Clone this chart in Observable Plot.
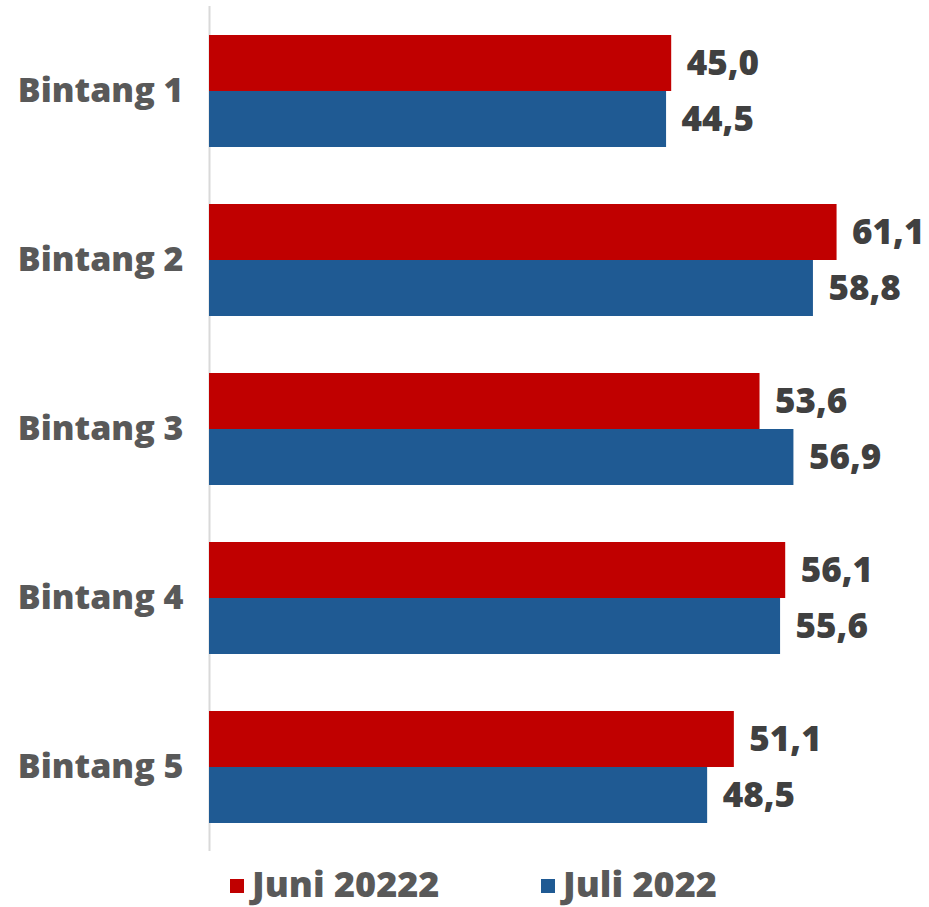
<!DOCTYPE html>
<html><head><meta charset="utf-8">
<script src="https://cdn.jsdelivr.net/npm/d3@7"></script>
<script src="https://cdn.jsdelivr.net/npm/@observablehq/plot@0.6"></script>
<style>
body{margin:0;background:#fff;font-family:"Open Sans",sans-serif;}
#chart svg{display:block;}
#legend{position:relative;height:47px;width:929px;}
.item{position:absolute;top:0;display:flex;align-items:center;height:47px;font-size:36px;font-weight:800;color:#595959;}
.sw{width:14px;height:14px;margin-right:8px;margin-top:4px;}
</style></head><body><div id="chart"></div><div id="legend"></div>
<script>
const categories = ["Bintang 1","Bintang 2","Bintang 3","Bintang 4","Bintang 5"];
const seriesNames = ["Juni 20222","Juli 2022"];
const juni = [45.0,61.1,53.6,56.1,51.1];
const juli = [44.5,58.8,56.9,55.6,48.5];
const colors = ["#C00000","#1F5A93"];
const legendLeft = [230, 541];

const data = categories.flatMap((c,i)=>[
  {cat:c, series:seriesNames[0], value:juni[i]},
  {cat:c, series:seriesNames[1], value:juli[i]}
]);
const fmt = v => v.toFixed(1).replace(".", ",");
const font = '"Open Sans", sans-serif';

const plot = Plot.plot({
  width:929, height:860, marginLeft:209, marginRight:0, marginTop:5, marginBottom:8,
  style:{fontFamily:font, fontSize:"34px", background:"white"},
  x:{domain:[0,70.1], axis:null},
  fy:{domain:categories, padding:0},
  y:{domain:seriesNames, paddingInner:0, paddingOuter:0.5, axis:null},
  color:{domain:seriesNames, range:colors},
  marks:[
    Plot.ruleX([0],{stroke:"#d9d9d9", strokeWidth:2}),
    Plot.barX(data,{fy:"cat", y:"series", x:"value", fill:"series"}),
    Plot.text(data,{fy:"cat", y:"series", x:"value", text:d=>fmt(d.value), dx:15, textAnchor:"start", fill:"#404040", fontSize:35, fontWeight:800}),
    Plot.axisFy({anchor:"left", tickSize:0, tickPadding:26, label:null, fontSize:34, fill:"#595959", fontWeight:800})
  ]
});
document.getElementById("chart").appendChild(plot);

const lg = document.getElementById("legend");
seriesNames.forEach((s,i)=>{
  const it = document.createElement("div");
  it.className="item"; it.style.left = legendLeft[i]+"px";
  const sw = document.createElement("div"); sw.className="sw"; sw.style.background=colors[i];
  const t = document.createElement("span"); t.textContent = s;
  it.appendChild(sw); it.appendChild(t); lg.appendChild(it);
});
</script></body></html>
